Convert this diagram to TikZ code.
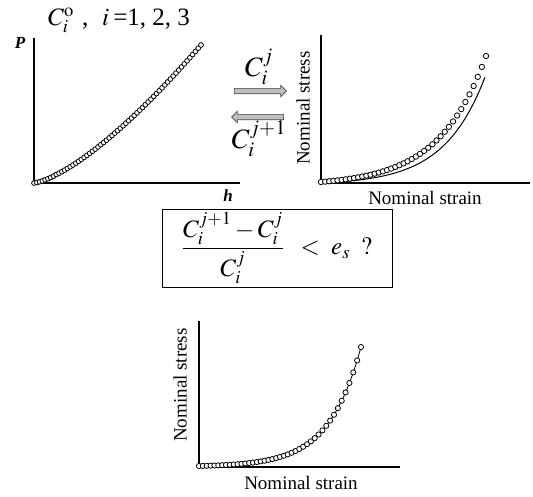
\documentclass[tikz,border=0pt]{standalone}
\usepackage{amsmath}
\usepackage{mathptmx}
\usepackage{fontspec}
\setmainfont{Liberation Serif}
\usetikzlibrary{shapes.arrows}

\tikzset{
  axis/.style={line width=1.6pt},
  datapt/.style={draw=black, fill=white, line width=0.8pt},
  fatarrow/.style={single arrow, draw=black!75, fill=gray!50, line width=0.6pt,
    inner sep=2.4pt, single arrow head extend=3pt, minimum height=52pt},
  axlabel/.style={font=\fontsize{19}{22}\selectfont},
  biglabel/.style={font=\fontsize{25}{30}\selectfont}
}

\begin{document}
\begin{tikzpicture}[x=1pt, y=-1pt]
  \useasboundingbox (0,0) rectangle (533,496);

  % P-h curve
  \draw[axis] (34,38) -- (34,183) -- (240,183);
  \node[font=\fontsize{17}{20}\selectfont\bfseries\itshape] (plab) at (20,43) {P};
  \node[font=\fontsize{17}{20}\selectfont\bfseries\itshape] (hlab) at (228,196) {h};
  \node[font=\fontsize{25}{28}\selectfont] (title) at (119,20) {$C_i^{\mathrm{o}}$\,\,,\;\;$i$\,=1, 2, 3};
  \foreach \k in {0,...,60} {
    \pgfmathsetmacro\t{\k/60+0.0001}
    \draw[datapt] ({34+167*\t},{183-138*(\t)^1.4}) circle[radius=2.4pt];
  }

  % iteration arrows
  \node[fatarrow] (fwd) at (259,91) {};
  \node[fatarrow, shape border rotate=180] (bwd) at (259,117) {};
  \node[font=\fontsize{28}{32}\selectfont] (cj) at (259,67) {$C_i^j$};
  \node[font=\fontsize{28}{32}\selectfont] (cj1) at (259,139) {$C_i^{j+1}$};

  % stress-strain, before fitting
  \draw[axis] (321,35) -- (321,183) -- (530,183);
  \node[axlabel, rotate=90] (sy1) at (303,108) {Nominal stress};
  \node[axlabel] (sx1) at (425,198) {Nominal strain};
  \draw[line width=1pt, domain=0:1, samples=60]
    plot ({321+164*\x},{183-1.9777*(exp(4*\x)-1)});
  \foreach \k in {0,...,40} {
    \pgfmathsetmacro\t{\k/40}
    \draw[datapt] ({321+165*\t},{182-3.9234*(exp(3.5*\t)-1)}) circle[radius=2.7pt];
  }

  % convergence check
  \node[draw, line width=0.8pt, minimum width=230pt, minimum height=66pt, biglabel] (crit) at (277,248)
    {$\dfrac{C_i^{j+1}-C_i^j}{C_i^j}\;\;<\;e_s\;\;?$};

  % stress-strain, converged
  \draw[axis] (199,321) -- (199,467) -- (400,467);
  \node[axlabel, rotate=90] (sy2) at (180,385) {Nominal stress};
  \node[axlabel] (sx2) at (301,483) {Nominal strain};
  \draw[line width=0.8pt, domain=0:1, samples=60]
    plot ({199+162*\x},{466-0.8073*(exp(5*\x)-1)});
  \foreach \k in {0,...,42} {
    \pgfmathsetmacro\t{\k/42}
    \draw[datapt] ({199+162*\t},{466-0.8073*(exp(5*\t)-1)}) circle[radius=2.6pt];
  }
\end{tikzpicture}
\end{document}
